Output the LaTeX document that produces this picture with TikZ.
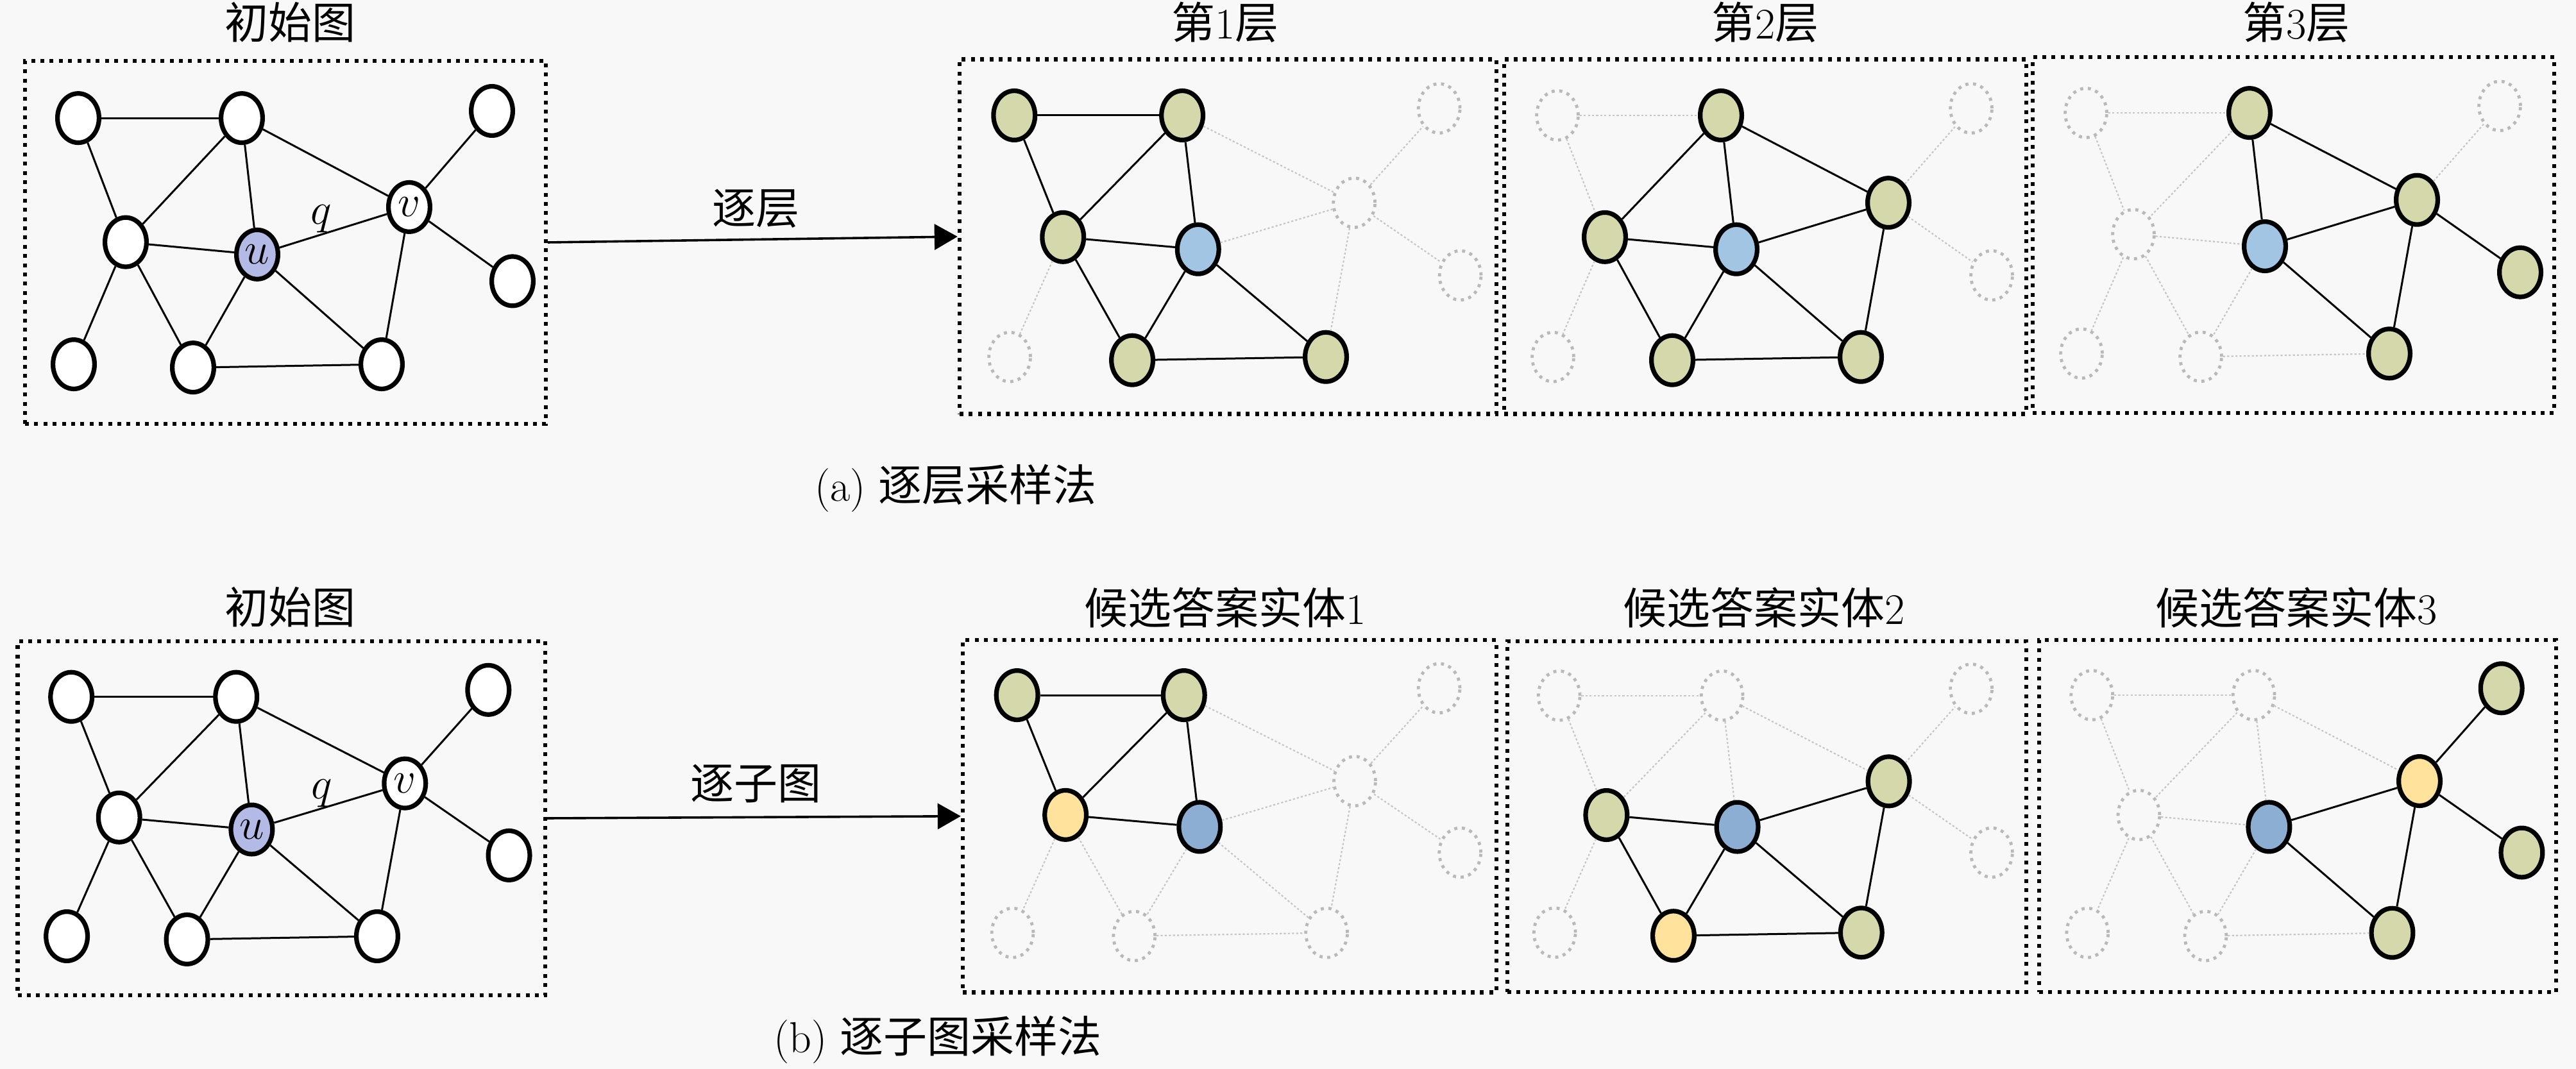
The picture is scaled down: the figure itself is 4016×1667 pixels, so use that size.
\documentclass[tikz,border=0pt]{standalone}
\usepackage{fontspec}
\newfontfamily\cjk{Noto Sans CJK SC}
\usetikzlibrary{shapes.geometric,arrows.meta}
\definecolor{bgc}{RGB}{248,248,248}
\definecolor{gfill}{RGB}{212,216,170}
\definecolor{bfill}{RGB}{162,197,228}
\definecolor{bfilldark}{RGB}{140,174,210}
\definecolor{ufill}{RGB}{180,186,230}
\definecolor{yfill}{RGB}{255,226,156}
\definecolor{faint}{RGB}{185,185,185}
\definecolor{faintedge}{RGB}{198,198,198}
\tikzset{
 gbase/.style={ellipse, minimum width=16.2pt, minimum height=19.2pt, inner sep=0pt, line width=1.8pt, font=\fontsize{17pt}{20pt}\selectfont},
 wnode/.style={gbase, draw=black, fill=white},
 unode/.style={gbase, draw=black, fill=ufill},
 gnode/.style={gbase, draw=black, fill=gfill},
 bnode/.style={gbase, draw=black, fill=bfill},
 bdnode/.style={gbase, draw=black, fill=bfilldark},
 ynode/.style={gbase, draw=black, fill=yfill},
 fnode/.style={gbase, draw=faint, line width=1.2pt, dash pattern=on 1.2pt off 1.8pt},
 sedge/.style={draw=black, line width=0.75pt},
 fedge/.style={draw=faintedge, line width=0.55pt, dash pattern=on 0.8pt off 0.8pt},
 panelbox/.style={rectangle, draw=black, line width=1.6pt, dash pattern=on 1.5pt off 2.1pt, inner sep=0pt},
 title/.style={font=\fontsize{17pt}{20pt}\selectfont, inner sep=0pt},
 mlabel/.style={font=\fontsize{17pt}{20pt}\selectfont, inner sep=0pt},
 flow/.style={-{Triangle[length=9pt,width=10pt]}, line width=0.9pt},
}
\newcommand\allfaint{\tikzset{nA/.style={fnode},nB/.style={fnode},nC/.style={fnode},nD/.style={fnode},nU/.style={fnode},nV/.style={fnode},nE/.style={fnode},nF/.style={fnode},nG/.style={fnode},nH/.style={fnode},
 eAB/.style={fedge},eAD/.style={fedge},eBD/.style={fedge},eBU/.style={fedge},eBV/.style={fedge},eDU/.style={fedge},eDF/.style={fedge},eDG/.style={fedge},eUG/.style={fedge},eUH/.style={fedge},eUV/.style={fedge},eVC/.style={fedge},eVE/.style={fedge},eVH/.style={fedge},eGH/.style={fedge}}}
\newcommand\allsolid{\tikzset{nA/.style={wnode},nB/.style={wnode},nC/.style={wnode},nD/.style={wnode},nU/.style={unode},nV/.style={wnode},nE/.style={wnode},nF/.style={wnode},nG/.style={wnode},nH/.style={wnode},
 eAB/.style={sedge},eAD/.style={sedge},eBD/.style={sedge},eBU/.style={sedge},eBV/.style={sedge},eDU/.style={sedge},eDF/.style={sedge},eDG/.style={sedge},eUG/.style={sedge},eUH/.style={sedge},eUV/.style={sedge},eVC/.style={sedge},eVE/.style={sedge},eVH/.style={sedge},eGH/.style={sedge}}}
\def\labU{}
\def\labV{}
\newcommand\graphbody{%
 \node[nA] (A) at (83,88) {};
 \node[nB] (B) at (338,88) {};
 \node[nC] (C) at (728,77) {};
 \node[nD] (D) at (157,279) {};
 \node[nU] (U) at (362,298) {\labU};
 \node[nV] (V) at (599,225) {\labV};
 \node[nE] (E) at (760,339) {};
 \node[nF] (F) at (76,467) {};
 \node[nG] (G) at (262,472) {};
 \node[nH] (H) at (556,467) {};
 \draw[eAB] (A) -- (B);
 \draw[eAD] (A) -- (D);
 \draw[eBD] (B) -- (D);
 \draw[eBU] (B) -- (U);
 \draw[eBV] (B) -- (V);
 \draw[eDU] (D) -- (U);
 \draw[eDF] (D) -- (F);
 \draw[eDG] (D) -- (G);
 \draw[eUG] (U) -- (G);
 \draw[eUH] (U) -- (H);
 \draw[eUV] (U) -- (V);
 \draw[eVC] (V) -- (C);
 \draw[eVE] (V) -- (E);
 \draw[eVH] (V) -- (H);
 \draw[eGH] (G) -- (H);
}
\begin{document}
\begin{tikzpicture}[x=0.25pt, y=-0.25pt]
\fill[bgc] (0,0) rectangle (4016,1667);
\useasboundingbox (0,0) rectangle (4016,1667);

% ---------- panel boxes ----------
\node[panelbox, minimum width=203pt, minimum height=141.5pt] (t0box) at (445,378) {};
\node[panelbox, minimum width=209.25pt, minimum height=138.25pt] (t1box) at (1914.5,369) {};
\node[panelbox, minimum width=203.5pt, minimum height=138.25pt] (t2box) at (2752,369) {};
\node[panelbox, minimum width=203.25pt, minimum height=138.75pt] (t3box) at (3575.5,366.5) {};
\node[panelbox, minimum width=205.6pt, minimum height=138pt] (b0box) at (438.75,1276) {};
\node[panelbox, minimum width=208pt, minimum height=137.4pt] (b1box) at (1917,1272.75) {};
\node[panelbox, minimum width=202.25pt, minimum height=136.75pt] (b2box) at (2754.5,1273.5) {};
\node[panelbox, minimum width=201.5pt, minimum height=137.25pt] (b3box) at (3582,1272.5) {};

% ---------- top row graphs ----------
\begin{scope}[shift={(39,95)}, yscale=1.013, name prefix=t0-]
 \allsolid \def\labU{$u$}\def\labV{$v$}
 \graphbody
 \node[mlabel] (q) at (462,243) {$q$};
\end{scope}
\begin{scope}[shift={(1496,92.5)}, xscale=1.027, yscale=0.994, name prefix=t1-]
 \allfaint
 \tikzset{nA/.style={gnode},nB/.style={gnode},nD/.style={gnode},nG/.style={gnode},nH/.style={gnode},nU/.style={bnode},
  eAB/.style={sedge},eAD/.style={sedge},eBD/.style={sedge},eBU/.style={sedge},eDU/.style={sedge},eDG/.style={sedge},eUG/.style={sedge},eUH/.style={sedge},eGH/.style={sedge}}
 \graphbody
\end{scope}
\begin{scope}[shift={(2345,92.5)}, yscale=0.994, name prefix=t2-]
 \allfaint
 \tikzset{nB/.style={gnode},nD/.style={gnode},nV/.style={gnode},nG/.style={gnode},nH/.style={gnode},nU/.style={bnode},
  eBD/.style={sedge},eBU/.style={sedge},eBV/.style={sedge},eDU/.style={sedge},eDG/.style={sedge},eUG/.style={sedge},eUH/.style={sedge},eUV/.style={sedge},eVH/.style={sedge},eGH/.style={sedge}}
 \graphbody
\end{scope}
\begin{scope}[shift={(3169,89)}, yscale=0.99, name prefix=t3-]
 \allfaint
 \tikzset{nB/.style={gnode},nV/.style={gnode},nE/.style={gnode},nH/.style={gnode},nU/.style={bnode},
  eBU/.style={sedge},eBV/.style={sedge},eUV/.style={sedge},eUH/.style={sedge},eVH/.style={sedge},eVE/.style={sedge}}
 \graphbody
\end{scope}

% ---------- bottom row graphs ----------
\begin{scope}[shift={(27.5,1000)}, xscale=1.008, yscale=0.985, name prefix=b0-]
 \allsolid \def\labU{$u$}\def\labV{$v$}
 \graphbody
 \node[mlabel] (q) at (470,241) {$q$};
\end{scope}
\begin{scope}[shift={(1501,998)}, xscale=1.02, yscale=0.978, name prefix=b1-]
 \allfaint
 \tikzset{nA/.style={gnode},nB/.style={gnode},nD/.style={ynode},nU/.style={bdnode},
  eAB/.style={sedge},eAD/.style={sedge},eBD/.style={sedge},eBU/.style={sedge},eDU/.style={sedge}}
 \graphbody
\end{scope}
\begin{scope}[shift={(2348,999)}, xscale=0.996, yscale=0.975, name prefix=b2-]
 \allfaint
 \tikzset{nD/.style={gnode},nV/.style={gnode},nH/.style={gnode},nG/.style={ynode},nU/.style={bdnode},
  eDU/.style={sedge},eDG/.style={sedge},eUG/.style={sedge},eUH/.style={sedge},eUV/.style={sedge},eVH/.style={sedge},eGH/.style={sedge}}
 \graphbody
\end{scope}
\begin{scope}[shift={(3179,998)}, xscale=0.99, yscale=0.978, name prefix=b3-]
 \allfaint
 \tikzset{nC/.style={gnode},nE/.style={gnode},nH/.style={gnode},nV/.style={ynode},nU/.style={bdnode},
  eUV/.style={sedge},eVC/.style={sedge},eVE/.style={sedge},eVH/.style={sedge},eUH/.style={sedge}}
 \graphbody
\end{scope}

% ---------- arrows ----------
\draw[flow] (t0box.east) -- (t1box.west);
\draw[flow] (b0box.east) -- (b1box.west);
\node[title] (lblA) at (1178,325) {\cjk 逐层};
\node[title] (lblB) at (1178,1222) {\cjk 逐子图};

% ---------- titles ----------
\node[title] (tt0) at (452,35) {\cjk 初始图};
\node[title] (tt1) at (1910,35) {{\cjk 第}1{\cjk 层}};
\node[title] (tt2) at (2752,35) {{\cjk 第}2{\cjk 层}};
\node[title] (tt3) at (3580,35) {{\cjk 第}3{\cjk 层}};
\node[title] (bt0) at (452,947) {\cjk 初始图};
\node[title] (bt1) at (1910,947) {{\cjk 候选答案实体}1};
\node[title] (bt2) at (2750,947) {{\cjk 候选答案实体}2};
\node[title] (bt3) at (3580,947) {{\cjk 候选答案实体}3};

% ---------- captions ----------
\node[title] (capA) at (1490,761) {(a) {\cjk 逐层采样法}};
\node[title] (capB) at (1462,1621) {(b) {\cjk 逐子图采样法}};
\end{tikzpicture}
\end{document}
